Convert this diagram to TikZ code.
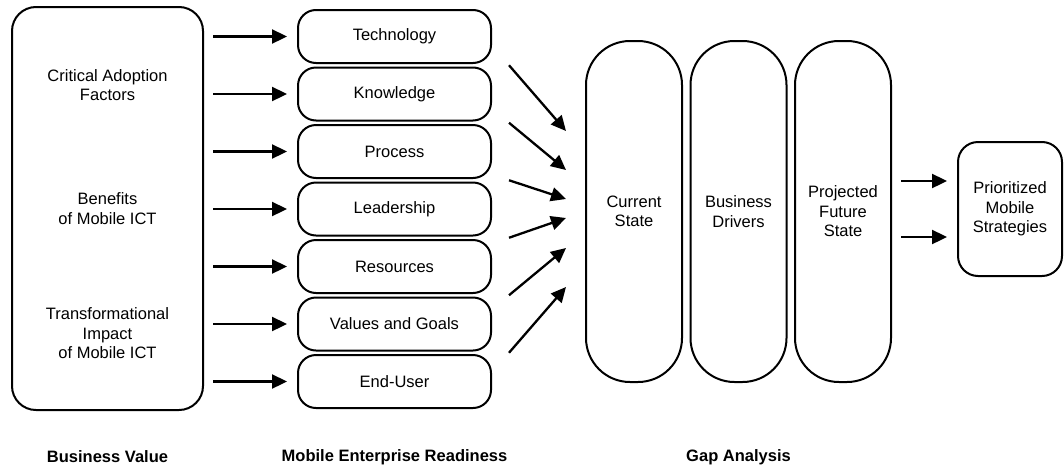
\documentclass[tikz,border=0pt]{standalone}
\usepackage{fontspec}
\setmainfont{Liberation Sans}
\usetikzlibrary{arrows.meta,calc}

\begin{document}
\begin{tikzpicture}[
    x=1pt, y=-1pt,
    every node/.style={font=\fontsize{16.5}{19.5}\selectfont, align=center, inner sep=0pt},
    value/.style={rectangle, draw=black, line width=2pt, rounded corners=24pt, minimum width=191pt, minimum height=403pt},
    readiness/.style={rectangle, draw=black, line width=2pt, rounded corners=18pt, minimum width=193pt, minimum height=53pt},
    pillar/.style={rectangle, draw=black, line width=2pt, rounded corners=44pt, minimum width=96pt, minimum height=341pt},
    strategy/.style={rectangle, draw=black, line width=2pt, rounded corners=20pt, minimum width=104pt, minimum height=134pt},
    arr/.style={-{Triangle[length=15pt,width=14pt]}, line width=2.3pt},
    label/.style={font=\fontsize{16.5}{19.5}\selectfont\bfseries}
]
\useasboundingbox (0,0) rectangle (1064,469);

% Business value
\node[value] (value) at (107.5,208.5) {};
\node (factors) at (107.5,85) {Critical Adoption\\Factors};
\node (benefits) at (107.5,208.5) {Benefits\\of Mobile ICT};
\node (impact) at (107.5,333.5) {Transformational\\Impact\\of Mobile ICT};

% Mobile enterprise readiness
\foreach \name/\txt [count=\i] in {tech/Technology, know/Knowledge, proc/Process,
    lead/Leadership, res/Resources, goals/Values and Goals, user/End-User}
{
  \node[readiness] (\name) at (394.5,{36.5+57.5*(\i-1)}) {\txt};
  \draw[arr, shorten <=9pt, shorten >=10pt] (value.east |- \name.west) -- (\name.west);
}

% Gap analysis
\node[pillar] (current) at (634,211.5) {Current\\State};
\node[pillar] (drivers) at (738.5,211.5) {Business\\Drivers};
\node[pillar] (future) at (843,211.5) {Projected\\Future\\State};

% Readiness feeding the current state
\coordinate (in1) at (566,131);
\coordinate (in2) at (566,170);
\coordinate (in3) at (566,199);
\coordinate (in4) at (566,218);
\coordinate (in5) at (566,248);
\coordinate (in6) at (566,287);
\foreach \a/\b [count=\i] in {tech/know, know/proc, proc/lead, lead/res, res/goals, goals/user}
  \draw[arr] ([xshift=17pt]$(\a.east)!0.5!(\b.east)$) -- (in\i);

% Strategies
\node[strategy] (strategies) at (1010,209) {Prioritized\\Mobile\\Strategies};
\draw[arr, shorten <=9pt, shorten >=10pt] (future.east |- 0,181) -- (strategies.west |- 0,181);
\draw[arr, shorten <=9pt, shorten >=10pt] (future.east |- 0,237) -- (strategies.west |- 0,237);

% Column titles
\node[label] (bvtitle) at (107.5,457) {Business Value};
\node[label] (mertitle) at (394.5,457) {Mobile Enterprise Readiness};
\node[label] (gaptitle) at (738.5,457) {Gap Analysis};

\end{tikzpicture}
\end{document}
